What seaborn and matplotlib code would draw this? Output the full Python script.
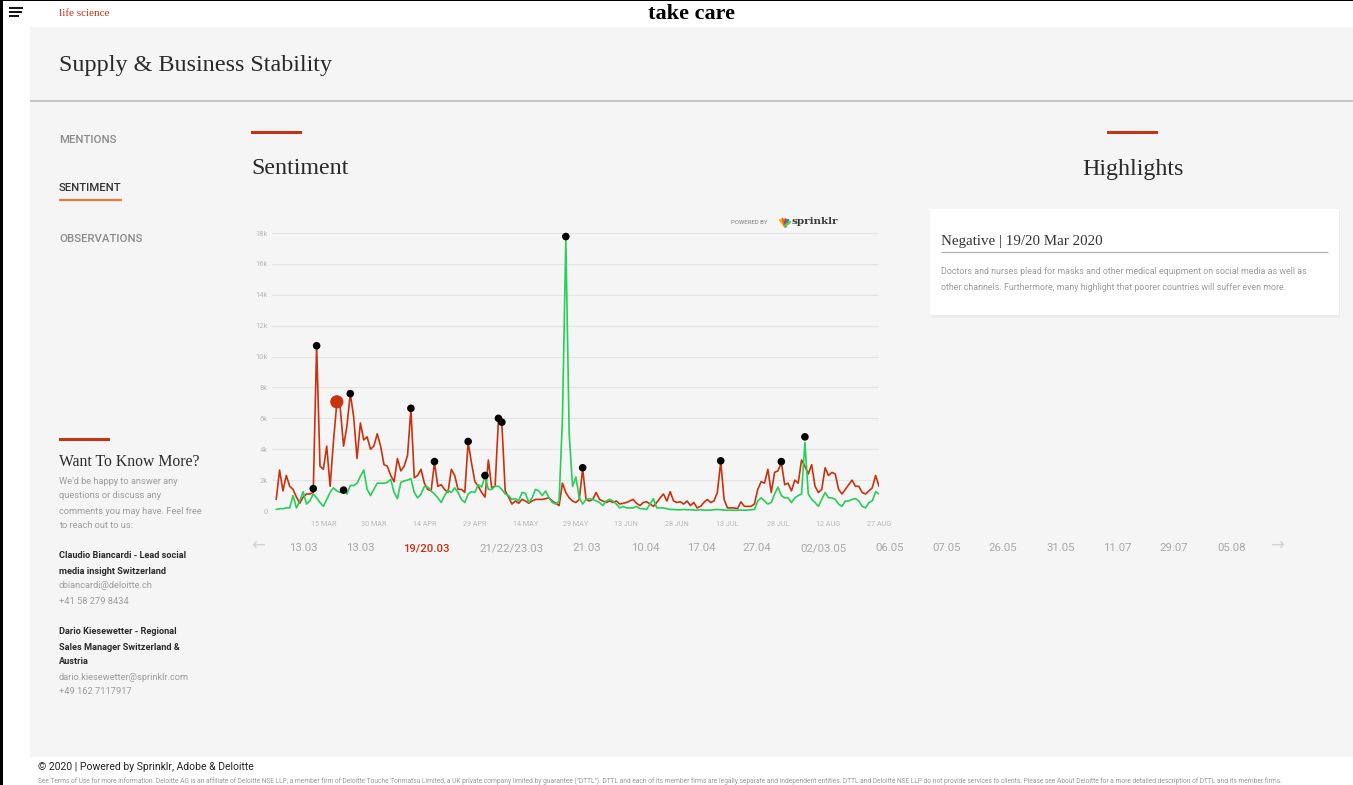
import numpy as np
import pandas as pd
import matplotlib
matplotlib.use("Agg")
import matplotlib.pyplot as plt
from matplotlib.patches import Rectangle
from matplotlib.lines import Line2D
import seaborn as sns

# ---------------- data ----------------
start_date = "2020-03-01"
neg_k = [0.75, 2.65, 1.3, 2.3, 1.6, 1.4, 0.9, 0.5, 0.9, 1.1,
         1.1, 1.2, 10.7, 2.9, 2.7, 4.2, 1.6, 4.5, 7.0, 6.7,
         4.2, 5.5, 7.6, 6.1, 3.4, 5.7, 4.6, 4.8, 4.0, 4.2,
         5.0, 4.2, 3.0, 2.9, 2.3, 1.9, 3.4, 2.6, 2.9, 3.6,
         6.6, 2.15, 2.3, 2.7, 1.8, 1.4, 1.3, 3.15, 1.6, 1.7,
         1.4, 1.2, 2.7, 2.3, 1.4, 1.4, 1.2, 4.45, 3.1, 1.9,
         1.6, 1.2, 0.9, 3.3, 1.5, 1.6, 5.95, 5.7, 1.3, 0.9,
         0.45, 0.65, 0.5, 0.75, 0.65, 0.5, 0.65, 0.75, 0.75, 0.75,
         0.8, 0.85, 0.65, 0.5, 0.35, 1.8, 1.2, 0.85, 0.65, 0.55,
         0.75, 2.75, 0.75, 0.65, 0.75, 1.2, 0.75, 0.65, 0.55, 0.65,
         0.55, 0.65, 0.45, 0.5, 0.55, 0.65, 0.75, 0.5, 0.35, 0.55,
         0.6, 0.45, 0.3, 0.55, 0.85, 1.1, 0.65, 1.25, 0.65, 0.55,
         0.6, 0.45, 0.65, 0.35, 0.55, 0.2, 0.3, 0.55, 0.75, 0.55,
         0.65, 1.2, 3.2, 0.75, 0.2, 0.2, 0.2, 0.15, 0.6, 0.3,
         0.3, 0.3, 0.45, 1.4, 1.9, 1.8, 2.7, 1.2, 2.5, 2.6,
         3.15, 1.7, 1.8, 1.3, 2.0, 1.8, 3.3, 2.9, 2.4, 3.0,
         1.6, 1.2, 1.4, 2.8, 2.3, 2.5, 2.4, 1.4, 1.1, 1.4,
         1.7, 2.0, 1.6, 1.6, 1.2, 1.1, 1.3, 1.5, 2.3, 1.6]
pos_k = [0.1, 0.15, 0.15, 0.2, 0.2, 1.0, 0.2, 0.65, 1.25, 0.45,
         0.65, 1.1, 0.85, 0.55, 0.3, 0.75, 1.2, 1.5, 1.3, 1.2,
         1.5, 1.1, 1.65, 1.65, 1.8, 2.25, 2.65, 1.4, 1.0, 1.4,
         1.8, 1.8, 1.8, 1.85, 2.05, 1.2, 0.8, 1.85, 1.95, 2.0,
         2.1, 1.2, 0.85, 1.1, 1.6, 1.55, 1.3, 1.1, 0.85, 0.55,
         1.0, 1.35, 1.2, 1.5, 1.2, 0.75, 0.55, 1.1, 1.25, 1.2,
         1.7, 1.55, 2.25, 1.4, 1.4, 1.6, 1.6, 1.4, 1.1, 1.0,
         0.75, 0.8, 0.65, 1.2, 1.15, 0.55, 0.85, 1.4, 1.3, 1.0,
         1.3, 0.85, 0.55, 0.45, 0.65, 6.0, 17.6, 5.0, 1.6, 2.2,
         0.85, 0.45, 0.75, 0.8, 0.75, 0.65, 0.55, 0.35, 0.65, 0.75,
         0.65, 0.45, 0.2, 0.3, 0.2, 0.2, 0.2, 0.3, 0.15, 0.15,
         0.1, 0.45, 0.8, 0.2, 0.2, 0.2, 0.15, 0.1, 0.1, 0.08,
         0.08, 0.1, 0.08, 0.08, 0.06, 0.06, 0.08, 0.06, 0.05, 0.06,
         0.08, 0.1, 0.08, 0.06, 0.05, 0.05, 0.05, 0.04, 0.05, 0.05,
         0.06, 0.08, 0.1, 0.65, 0.85, 0.65, 0.45, 0.55, 1.1, 1.55,
         1.0, 0.85, 0.85, 0.55, 0.85, 1.0, 1.1, 4.45, 1.1, 0.75,
         0.55, 0.3, 0.75, 1.2, 0.85, 0.85, 0.75, 0.45, 0.3, 0.65,
         0.65, 0.75, 0.8, 0.65, 0.3, 0.2, 0.55, 0.65, 1.25, 1.1]

highlight_dates = ["2020-03-12", "2020-03-13", "2020-03-19", "2020-03-23",
                   "2020-03-21", "2020-04-10", "2020-04-17", "2020-04-27",
                   "2020-05-02", "2020-05-06", "2020-05-07", "2020-05-26",
                   "2020-05-31", "2020-07-11", "2020-07-29", "2020-08-05"]
highlight_k = [1.45, 10.7, 7.07, 7.6, 1.35, 6.65, 3.2, 4.5,
               2.3, 6.0, 5.75, 17.77, 2.8, 3.25, 3.2, 4.8]
highlight_labels = ["13.03", "13.03", "19/20.03", "21/22/23.03", "21.03",
                    "10.04", "17.04", "27.04", "02/03.05", "06.05", "07.05",
                    "26.05", "31.05", "11.07", "29.07", "05.08"]
selected_idx = 2

xtick_dates = ["2020-03-15", "2020-03-30", "2020-04-14", "2020-04-29",
               "2020-05-14", "2020-05-29", "2020-06-13", "2020-06-28",
               "2020-07-13", "2020-07-28", "2020-08-12", "2020-08-27"]
xtick_labels = ["15 MAR", "30 MAR", "14 APR", "29 APR", "14 MAY", "29 MAY",
                "13 JUN", "28 JUN", "13 JUL", "28 JUL", "12 AUG", "27 AUG"]
ytick_values = [0, 2000, 4000, 6000, 8000, 10000, 12000, 14000, 16000, 18000]
ytick_labels = ["0", "2k", "4k", "6k", "8k", "10k", "12k", "14k", "16k", "18k"]

# ---------------- style ----------------
sns.set_theme(style="white")
plt.rcParams["font.family"] = ["Roboto", "DejaVu Sans"]
SERIF = ["Liberation Serif", "DejaVu Serif"]
RED = "#c8320f"
GREEN = "#26cf58"
LIGHT = "#9c9c9c"

W, H = 1353, 785
fig = plt.figure(figsize=(W / 100, H / 100), dpi=100)
fig.patch.set_facecolor("white")

bg = fig.add_axes([0, 0, 1, 1])
bg.set_xlim(0, W)
bg.set_ylim(H, 0)
bg.axis("off")

def rect(x, y, w, h, c, z=1):
    bg.add_patch(Rectangle((x, y), w, h, facecolor=c, edgecolor="none", zorder=z))

def hline(x0, x1, y, c, lw):
    bg.add_line(Line2D([x0, x1], [y, y], color=c, lw=lw, solid_capstyle="butt", zorder=3))

# page frame
rect(30, 27, W - 30, 730, "#f5f5f5")
rect(0, 0, 3, H, "black", 5)
rect(0, 0, W, 1.3, "black", 5)
rect(30, 100, W - 30, 2.2, "#c6c6c6", 2)

# hamburger
for yy, x1 in [(8, 23), (12, 22), (16, 19)]:
    hline(9, x1, yy, "#111111", 1.4)

bg.text(59, 13, "life science", family=SERIF, fontsize=8, color=RED, va="center")
bg.text(692, 14, "take care", family=SERIF, fontsize=16, fontweight="bold",
        color="black", va="center", ha="center")
bg.text(59, 66, "Supply & Business Stability", family=SERIF, fontsize=17.4,
        color="#2a2a2a", va="center")

# left nav
bg.text(59, 140, "MENTIONS", fontsize=8.2, fontweight="medium", color="#8a8a8a", va="center")
bg.text(59, 188, "SENTIMENT", fontsize=8.2, fontweight="medium", color="#333333", va="center")
hline(59, 122, 200, "#f07a3a", 1.6)
bg.text(59, 239, "OBSERVATIONS", fontsize=8.2, fontweight="medium", color="#8a8a8a", va="center")

# section headings
rect(251, 130.5, 51, 3.5, RED, 3)
bg.text(251, 169, "Sentiment", family=SERIF, fontsize=17.3, color="#2a2a2a", va="center")
rect(1107, 130.5, 51, 3.5, RED, 3)
bg.text(1133, 169, "Highlights", family=SERIF, fontsize=17.3, color="#2a2a2a",
        va="center", ha="center")

# powered by sprinklr
bg.text(749, 222, "POWERED BY", fontsize=4.3, color="#7a7a7a", va="center", ha="center")
for (dx, dy, c) in [(-5, -6, "#f7b500"), (-2.5, -7, "#f26b1d"), (0, -7, "#e8243c"),
                    (3, -6, "#0a8bd6"), (5, -4, "#7bc043")]:
    bg.add_line(Line2D([785, 785 + dx], [226, 226 + dy], color=c, lw=1.8,
                       solid_capstyle="round", zorder=3))
bg.text(792, 221, "sprinklr", family=["DejaVu Serif"], fontsize=7.5, fontweight="bold",
        color="#3a3a3a", va="center")

# highlights card
rect(931, 211, 409, 107, "#ececec", 2)
rect(930, 209, 409, 106, "white", 3)
bg.text(941, 241, "Negative | 19/20 Mar 2020", family=SERIF, fontsize=10.8,
        color="#333333", va="center", zorder=4)
hline(941, 1328, 252, "#b0b0b0", 0.9)
bg.text(941, 272, "Doctors and nurses plead for masks and other medical equipment on social media as well as",
        fontsize=6.4, color=LIGHT, va="center", zorder=4)
bg.text(941, 287, "other channels. Furthermore, many highlight that poorer countries will suffer even more.",
        fontsize=6.4, color=LIGHT, va="center", zorder=4)

# want to know more
rect(59, 438, 51, 3.2, RED, 3)
bg.text(59, 462, "Want To Know More?", family=SERIF, fontsize=11.3, color="#2a2a2a", va="center")
para = [("We'd be happy to answer any", "n", 481), ("questions or discuss any", "n", 496),
        ("comments you may have. Feel free", "n", 511), ("to reach out to us:", "n", 526),
        ("Claudio Biancardi - Lead social", "b", 556), ("media insight Switzerland", "b", 571),
        ("cbiancardi@deloitte.ch", "n", 586), ("+41 58 279 8434", "n", 601),
        ("Dario Kiesewetter - Regional", "b", 632), ("Sales Manager Switzerland &", "b", 647),
        ("Austria", "b", 662), ("dario.kiesewetter@sprinklr.com", "n", 677),
        ("+49 162 7117917", "n", 692)]
for txt, kind, yy in para:
    if kind == "b":
        bg.text(59, yy, txt, fontsize=6.6, fontweight="bold", color="#2a2a2a", va="center")
    else:
        bg.text(59, yy, txt, fontsize=6.7, color=LIGHT, va="center")

# date navigation
nav_x = [303, 360, 426, 511, 587, 645, 701, 757, 823, 890, 947, 1003, 1061, 1117, 1174, 1232]
for i, (lab, xx) in enumerate(zip(highlight_labels, nav_x)):
    if i == selected_idx:
        bg.text(xx, 548, lab, fontsize=8.2, fontweight="medium", color=RED, va="center", ha="center")
    else:
        bg.text(xx, 548, lab, fontsize=8.2, color="#a8a8a8", va="center", ha="center")
bg.text(258, 546, "\u2190", family=["DejaVu Sans"], fontsize=12, color="#d2d2d2", va="center", ha="center")
bg.text(1277, 546, "\u2192", family=["DejaVu Sans"], fontsize=12, color="#d2d2d2", va="center", ha="center")

# footer
bg.text(38, 767, "\u00a9 2020 | Powered by Sprinklr, Adobe & Deloitte", fontsize=7.5,
        color="#222222", va="center")
bg.text(38, 781, "See Terms of Use for more information. Deloitte AG is an affiliate of Deloitte NSE LLP, a member firm of "
        "Deloitte Touche Tohmatsu Limited, a UK private company limited by guarantee (\"DTTL\"). DTTL and each of its member "
        "firms are legally separate and independent entities. DTTL and Deloitte NSE LLP do not provide services to clients. "
        "Please see About Deloitte for a more detailed description of DTTL and its member firms.",
        fontsize=4.8, color="#9a9a9a", va="center")

# ---------------- chart ----------------
L, R, T, B = 272, 879, 233, 511
ax = fig.add_axes([L / W, 1 - B / H, (R - L) / W, (B - T) / H])
ax.set_facecolor("none")

dates = pd.date_range(start_date, periods=len(neg_k), freq="D")
df = pd.DataFrame({"date": dates,
                   "Negative": np.array(neg_k) * 1000,
                   "Positive": np.array(pos_k) * 1000})
long = df.melt(id_vars="date", var_name="sentiment", value_name="mentions")
sns.lineplot(data=long, x="date", y="mentions", hue="sentiment",
             hue_order=["Negative", "Positive"],
             palette={"Negative": RED, "Positive": GREEN},
             linewidth=1.2, legend=False, ax=ax)

hd = pd.to_datetime(highlight_dates)
hv = np.array(highlight_k) * 1000
mask = np.arange(len(hd)) != selected_idx
sns.scatterplot(x=hd[mask], y=hv[mask], color="black", s=30, edgecolor="none",
                ax=ax, zorder=5, clip_on=False)
sns.scatterplot(x=[hd[selected_idx]], y=[hv[selected_idx]], color=RED, s=90,
                edgecolor="none", ax=ax, zorder=6, clip_on=False)

ax.set_xlim(pd.Timestamp(start_date) - pd.Timedelta(hours=30), pd.Timestamp("2020-08-27"))
ax.set_ylim(0, 18000)
ax.set_yticks(ytick_values)
ax.set_yticklabels(ytick_labels, fontsize=5.5, color="#b8b8b8")
ax.set_xticks(pd.to_datetime(xtick_dates))
ax.set_xticklabels(xtick_labels, fontsize=5.2, color="#b8b8b8")
ax.tick_params(axis="y", length=0, pad=3)
ax.tick_params(axis="x", length=0, pad=7)
ax.yaxis.grid(True, color="#e3e3e3", lw=0.8)
ax.xaxis.grid(False)
ax.set_axisbelow(True)
for s in ax.spines.values():
    s.set_visible(False)
ax.set_xlabel("")
ax.set_ylabel("")

fig.savefig("out.png", dpi=100, facecolor="white")
